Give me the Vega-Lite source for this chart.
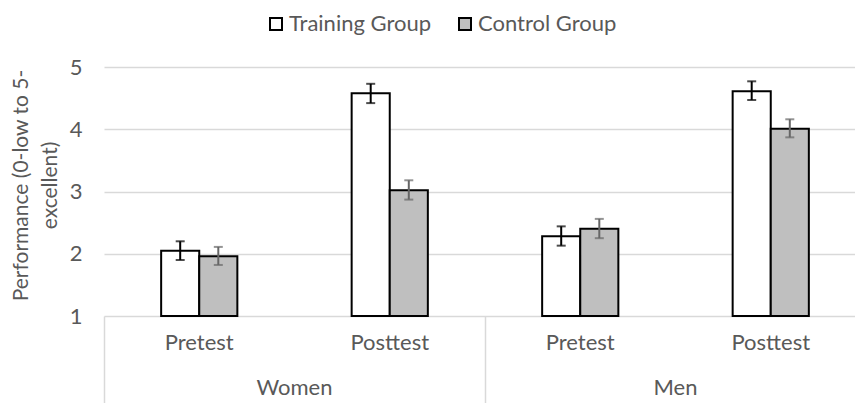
{
  "$schema": "https://vega.github.io/schema/vega-lite/v6.json",
  "width": 751,
  "height": 249,
  "autosize": {"type": "none"},
  "padding": {"left": 104, "top": 67, "right": 0, "bottom": 87},
  "config": {
    "font": "Lato",
    "view": {"stroke": null},
    "axis": {"labelColor": "#595959", "titleColor": "#595959", "labelFont": "Lato", "titleFont": "Lato", "labelFontSize": 22, "titleFontSize": 21, "titleFontWeight": "normal"}
  },
  "data": {"values": [
    {"Gender": "Women", "Time": "Pretest", "Condition": "Women Pretest", "Group": "Training Group", "Value": 2.05, "Lo": 1.90, "Hi": 2.20},
    {"Gender": "Women", "Time": "Pretest", "Condition": "Women Pretest", "Group": "Control Group", "Value": 1.96, "Lo": 1.82, "Hi": 2.11},
    {"Gender": "Women", "Time": "Posttest", "Condition": "Women Posttest", "Group": "Training Group", "Value": 4.58, "Lo": 4.42, "Hi": 4.73},
    {"Gender": "Women", "Time": "Posttest", "Condition": "Women Posttest", "Group": "Control Group", "Value": 3.02, "Lo": 2.87, "Hi": 3.18},
    {"Gender": "Men", "Time": "Pretest", "Condition": "Men Pretest", "Group": "Training Group", "Value": 2.28, "Lo": 2.13, "Hi": 2.44},
    {"Gender": "Men", "Time": "Pretest", "Condition": "Men Pretest", "Group": "Control Group", "Value": 2.40, "Lo": 2.25, "Hi": 2.56},
    {"Gender": "Men", "Time": "Posttest", "Condition": "Men Posttest", "Group": "Training Group", "Value": 4.61, "Lo": 4.47, "Hi": 4.77},
    {"Gender": "Men", "Time": "Posttest", "Condition": "Men Posttest", "Group": "Control Group", "Value": 4.01, "Lo": 3.87, "Hi": 4.16}
  ]},
  "layer": [
    {
      "encoding": {
        "x": {"field": "Condition", "type": "nominal", "sort": ["Women Pretest", "Women Posttest", "Men Pretest", "Men Posttest"],
              "scale": {"range": [0, 762], "paddingInner": 0.6, "paddingOuter": 0.3},
              "axis": {"orient": "bottom", "title": null, "labelExpr": "split(datum.label, ' ')[1]", "ticks": false, "domain": false, "labelPadding": 16, "labelAngle": 0, "labelBaseline": "top"}},
        "xOffset": {"field": "Group", "type": "nominal", "sort": ["Training Group", "Control Group"], "scale": {"paddingInner": 0, "paddingOuter": 0}}
      },
      "layer": [
        {
          "mark": {"type": "bar", "stroke": "#000000", "strokeWidth": 2},
          "encoding": {
            "y": {"field": "Value", "type": "quantitative", "scale": {"domain": [1, 5], "nice": false, "zero": false},
                  "axis": {"title": ["Performance (0-low to 5-", "excellent)"], "values": [1, 2, 3, 4, 5], "format": "d", "domain": false, "ticks": false, "labelPadding": 22, "gridColor": "#d9d9d9", "gridWidth": 1.5, "titlePadding": 9, "titleLineHeight": 29, "titleY": 118}},
            "y2": {"datum": 1},
            "fill": {"field": "Group", "type": "nominal", "sort": ["Training Group", "Control Group"],
                     "scale": {"domain": ["Training Group", "Control Group"], "range": ["#ffffff", "#bfbfbf"]},
                     "legend": {"title": null, "orient": "none", "legendX": 161, "legendY": -54, "direction": "horizontal", "symbolType": "square", "symbolSize": 144, "symbolStrokeColor": "#000000", "symbolStrokeWidth": 2, "labelFontSize": 22, "labelColor": "#595959", "labelFont": "Lato", "columnPadding": 22, "labelOffset": 2, "padding": 0}}
          }
        },
        {
          "mark": {"type": "rule", "strokeWidth": 2},
          "encoding": {
            "y": {"field": "Lo", "type": "quantitative"},
            "y2": {"field": "Hi"},
            "color": {"condition": {"test": "datum.Group === 'Training Group'", "value": "#000000"}, "value": "#666666"}
          }
        },
        {
          "mark": {"type": "tick", "orient": "horizontal", "size": 9, "thickness": 2},
          "encoding": {
            "y": {"field": "Hi", "type": "quantitative"},
            "color": {"condition": {"test": "datum.Group === 'Training Group'", "value": "#000000"}, "value": "#666666"}
          }
        },
        {
          "mark": {"type": "tick", "orient": "horizontal", "size": 9, "thickness": 2},
          "encoding": {
            "y": {"field": "Lo", "type": "quantitative"},
            "color": {"condition": {"test": "datum.Group === 'Training Group'", "value": "#000000"}, "value": "#666666"}
          }
        }
      ]
    },
    {
      "mark": {"type": "bar", "opacity": 0},
      "encoding": {
        "x": {"field": "Gender", "type": "nominal", "sort": ["Women", "Men"],
              "scale": {"range": [0, 762], "paddingInner": 0, "paddingOuter": 0},
              "axis": {"orient": "bottom", "title": null, "labelAngle": 0, "domain": false, "ticks": true, "bandPosition": 0, "tickSize": 87, "tickColor": "#d9d9d9", "tickWidth": 1.5, "labelPadding": -26, "labelBaseline": "top"}},
        "y": {"field": "Value", "type": "quantitative"},
        "y2": {"datum": 1}
      }
    }
  ],
  "resolve": {"scale": {"x": "independent"}, "axis": {"x": "independent"}}
}
